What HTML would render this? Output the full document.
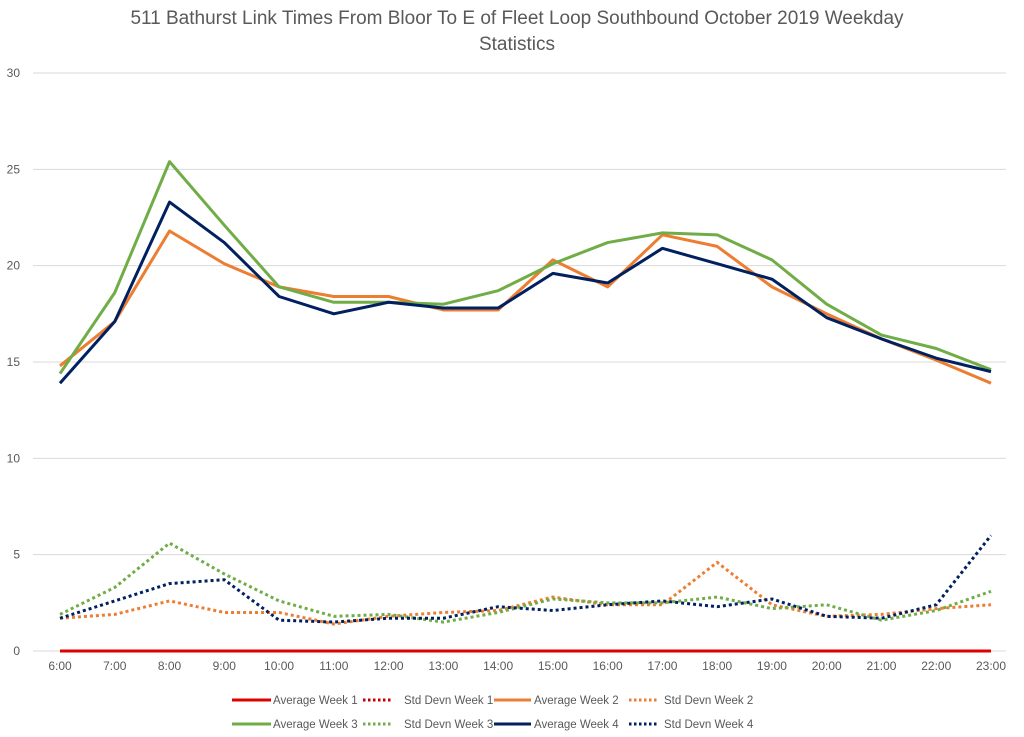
<!DOCTYPE html>
<html><head><meta charset="utf-8"><style>
body{margin:0;background:#fff;font-family:"Liberation Sans",sans-serif}
svg{display:block}
</style></head><body>
<svg id="chart" width="1024" height="737">
<text x="517" y="24" text-anchor="middle" font-size="19" fill="#595959">511 Bathurst Link Times From Bloor To E of Fleet Loop Southbound October 2019 Weekday</text>
<text x="517" y="50" text-anchor="middle" font-size="19" fill="#595959">Statistics</text>
<g id="grid"></g><g id="series"></g><g id="legend"></g>
</svg>
<script>
const categories=["6:00","7:00","8:00","9:00","10:00","11:00","12:00","13:00","14:00","15:00","16:00","17:00","18:00","19:00","20:00","21:00","22:00","23:00"];
const yTicks=[0,5,10,15,20,25,30];
const avgW1=[0,0,0,0,0,0,0,0,0,0,0,0,0,0,0,0,0,0];
const stdW1=[0,0,0,0,0,0,0,0,0,0,0,0,0,0,0,0,0,0];
const avgW2=[14.8,17.1,21.8,20.1,18.9,18.4,18.4,17.7,17.7,20.3,18.9,21.6,21.0,18.9,17.5,16.2,15.1,13.9];
const stdW2=[1.7,1.9,2.6,2.0,2.0,1.4,1.8,2.0,2.1,2.8,2.4,2.4,4.6,2.4,1.8,1.9,2.2,2.4];
const avgW3=[14.4,18.6,25.4,22.1,18.9,18.1,18.1,18.0,18.7,20.1,21.2,21.7,21.6,20.3,18.0,16.4,15.7,14.6];
const stdW3=[1.9,3.3,5.6,4.0,2.6,1.8,1.9,1.5,2.0,2.7,2.5,2.5,2.8,2.2,2.4,1.6,2.1,3.1];
const avgW4=[13.9,17.1,23.3,21.2,18.4,17.5,18.1,17.8,17.8,19.6,19.1,20.9,20.1,19.3,17.3,16.2,15.2,14.5];
const stdW4=[1.7,2.6,3.5,3.7,1.6,1.5,1.7,1.7,2.3,2.1,2.4,2.6,2.3,2.7,1.8,1.7,2.4,6.0];

const NS="http://www.w3.org/2000/svg";
const x0=60,x1=991,yb=651,yt=73,left=33,right=1006;
const xs=i=>x0+i*(x1-x0)/(categories.length-1);
const ys=v=>yb-v*(yb-yt)/30;
function mk(t,a,p){const e=document.createElementNS(NS,t);for(const k in a)e.setAttribute(k,a[k]);p.appendChild(e);return e;}
const grid=document.getElementById('grid');
yTicks.forEach(v=>{
 const l=mk('line',{x1:left,x2:right,y1:ys(v),y2:ys(v),stroke:'#d9d9d9','stroke-width':1},grid);
 
 
 const t=mk('text',{x:20,y:ys(v)+4,'text-anchor':'end','font-size':12,fill:'#595959'},grid);
 t.textContent=v;
 
 
});
categories.forEach((c,i)=>{
 const t=mk('text',{x:xs(i),y:670,'text-anchor':'middle','font-size':12,fill:'#595959'},grid);
 t.textContent=c;
 
 
});
const series=[
 {n:'std-devn-week-1',d:stdW1,c:'#c00000',dash:true},
 {n:'std-devn-week-2',d:stdW2,c:'#ed7d31',dash:true},
 {n:'std-devn-week-3',d:stdW3,c:'#70ad47',dash:true},
 {n:'std-devn-week-4',d:stdW4,c:'#002060',dash:true},
 {n:'average-week-2',d:avgW2,c:'#ed7d31',dash:false},
 {n:'average-week-3',d:avgW3,c:'#70ad47',dash:false},
 {n:'average-week-4',d:avgW4,c:'#002060',dash:false},
 {n:'average-week-1',d:avgW1,c:'#e00000',dash:false}
];
const sg=document.getElementById('series');
series.forEach(s=>{
 const pts=s.d.map((v,i)=>xs(i)+','+ys(v)).join(' ');
 const a={points:pts,fill:'none',stroke:s.c,'stroke-width':3,'stroke-linejoin':'round'};
 if(s.dash){a['stroke-dasharray']='3 3';}
 const p=mk('polyline',a,sg);
 
 
});
const order=[['average-week-1','#e00000',false,'Average Week 1'],['std-devn-week-1','#c00000',true,'Std Devn Week 1'],['average-week-2','#ed7d31',false,'Average Week 2'],['std-devn-week-2','#ed7d31',true,'Std Devn Week 2'],
['average-week-3','#70ad47',false,'Average Week 3'],['std-devn-week-3','#70ad47',true,'Std Devn Week 3'],['average-week-4','#002060',false,'Average Week 4'],['std-devn-week-4','#002060',true,'Std Devn Week 4']];
const lg=document.getElementById('legend');
const lineX=[[232,271],[363,391],[494,531],[629,659]];
const textX=[273,404,534,664];
order.forEach((o,i)=>{
 const r=Math.floor(i/4),c=i%4;
 const y=700+r*24;
 const g=mk('g',{},lg);
 
 
 const la={x1:lineX[c][0],x2:lineX[c][1],y1:y,y2:y,stroke:o[1],'stroke-width':3};
 if(o[2]){la['stroke-dasharray']='2.5 2.5';}
 mk('line',la,g);
 const t=mk('text',{x:textX[c],y:y+4,'font-size':11.5,fill:'#595959'},g);
 t.textContent=o[3];
});
</script>
</body></html>
